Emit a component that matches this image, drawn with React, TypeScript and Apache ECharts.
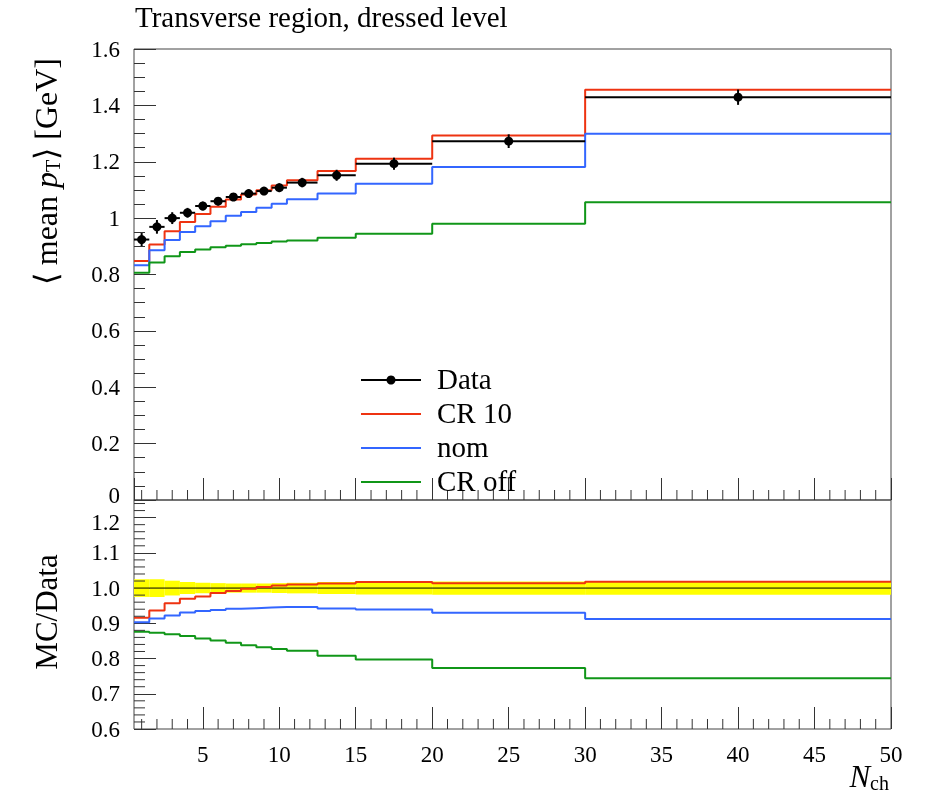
import React, { useEffect, useRef } from "react";
import * as echarts from "echarts";

// ---- data ----
const binEdges = [0.5, 1.5, 2.5, 3.5, 4.5, 5.5, 6.5, 7.5, 8.5, 9.5, 10.5, 12.5, 15, 20, 30, 50];
const dataValues = [0.924, 0.969, 1.0, 1.019, 1.043, 1.06, 1.075, 1.087, 1.096, 1.108, 1.126, 1.152, 1.193, 1.273, 1.429];
const dataRelErr = [0.025, 0.025, 0.021, 0.017, 0.015, 0.014, 0.013, 0.013, 0.013, 0.014, 0.015, 0.017, 0.018, 0.019, 0.019];
const cr10Values = [0.848, 0.906, 0.953, 0.986, 1.015, 1.04, 1.066, 1.084, 1.099, 1.116, 1.134, 1.167, 1.211, 1.293, 1.455];
const nomValues = [0.833, 0.886, 0.922, 0.951, 0.971, 0.989, 1.008, 1.022, 1.037, 1.051, 1.067, 1.087, 1.122, 1.181, 1.299];
const crOffValues = [0.806, 0.843, 0.865, 0.88, 0.889, 0.897, 0.902, 0.907, 0.912, 0.917, 0.921, 0.93, 0.945, 0.98, 1.056];
const cr10Ratio = [0.916, 0.936, 0.957, 0.97, 0.976, 0.986, 0.992, 0.998, 1.003, 1.007, 1.01, 1.013, 1.017, 1.014, 1.018];
const nomRatio = [0.903, 0.914, 0.922, 0.931, 0.935, 0.938, 0.941, 0.943, 0.945, 0.946, 0.946, 0.942, 0.939, 0.93, 0.912];
const crOffRatio = [0.876, 0.873, 0.869, 0.864, 0.857, 0.851, 0.845, 0.838, 0.832, 0.827, 0.822, 0.808, 0.797, 0.773, 0.744];

const xMinorTicks = [1, 2, 3, 4, 6, 7, 8, 9, 11, 12, 13, 14, 16, 17, 18, 19, 21, 22, 23, 24, 26, 27, 28, 29, 31, 32, 33, 34, 36, 37, 38, 39, 41, 42, 43, 44, 46, 47, 48, 49];
const ratioMinorTicks = [0.62, 0.64, 0.66, 0.68, 0.72, 0.74, 0.76, 0.78, 0.82, 0.84, 0.86, 0.88, 0.92, 0.94, 0.96, 0.98, 1.02, 1.04, 1.06, 1.08, 1.12, 1.14, 1.16, 1.18, 1.22, 1.24];

const seriesNames = ["Data", "CR 10", "nom", "CR off"];
const RED = "#EE3311";
const BLUE = "#3366FF";
const GREEN = "#109618";
const FONT = "Liberation Serif";
const TICK_COLOR = "#333";
const TICK_FONT = 23;

function stepPoints(vals: number[]) {
  const pts: number[][] = [];
  vals.forEach((v, i) => {
    pts.push([binEdges[i], v]);
    pts.push([binEdges[i + 1], v]);
  });
  return pts;
}

function stepLine(name: string, vals: number[], color: string, grid: number) {
  return {
    name,
    type: "line",
    xAxisIndex: grid,
    yAxisIndex: grid,
    data: stepPoints(vals),
    showSymbol: false,
    symbol: "none",
    lineStyle: { color, width: 2 },
    z: 3,
    silent: true,
  };
}

function tickSeries(values: number[], grid: number, dir: "x" | "y", base: number, len: number) {
  return {
    type: "custom",
    xAxisIndex: grid,
    yAxisIndex: grid,
    silent: true,
    z: 5,
    clip: false,
    data: values.map((v) => [v, 0]),
    renderItem: (_p: any, api: any) => {
      const v = api.value(0);
      if (dir === "x") {
        const p = api.coord([v, base]);
        return { type: "line", shape: { x1: p[0], y1: p[1], x2: p[0], y2: p[1] - len }, style: { stroke: TICK_COLOR, lineWidth: 1 } };
      }
      const p = api.coord([base, v]);
      return { type: "line", shape: { x1: p[0], y1: p[1], x2: p[0] + len, y2: p[1] }, style: { stroke: TICK_COLOR, lineWidth: 1 } };
    },
  };
}

export default function App() {
  const ref = useRef<HTMLDivElement>(null);
  useEffect(() => {
    if (!ref.current) return;
    const chart = echarts.init(ref.current, undefined, { renderer: "svg" });

    const dataItems = dataValues.map((v, i) => [
      (binEdges[i] + binEdges[i + 1]) / 2,
      v,
      v * dataRelErr[i],
      binEdges[i],
      binEdges[i + 1],
    ]);
    const bandItems = dataRelErr.map((e, i) => [binEdges[i], binEdges[i + 1], e]);
    const xMin = binEdges[0];
    const xMax = binEdges[binEdges.length - 1];

    const tokenStyle = { fontFamily: FONT, fontSize: TICK_FONT, color: "#000" };
    const labelStyle = { ...tokenStyle };
    const legendY = [380, 414, 448, 482];
    const legendColors = ["#000", RED, BLUE, GREEN];

    const legendGraphics: any[] = [];
    seriesNames.forEach((n, i) => {
      legendGraphics.push({
        type: "line",
        shape: { x1: 361, y1: legendY[i], x2: 421, y2: legendY[i] },
        style: { stroke: legendColors[i], lineWidth: 2 },
        z: 10,
      });
      if (i === 0) {
        legendGraphics.push({ type: "circle", shape: { cx: 391, cy: legendY[i], r: 4.5 }, style: { fill: "#000" }, z: 10 });
      }
      legendGraphics.push({
        type: "text",
        x: 437,
        y: legendY[i] - 1,
        style: { text: n, fontFamily: FONT, fontSize: 29, fill: "#000", align: "left", verticalAlign: "middle" },
        z: 10,
      });
    });

    const option: any = {
      animation: false,
      grid: [
        { left: 134, top: 49, width: 757, height: 451, show: true, borderColor: "#444", borderWidth: 1, backgroundColor: "transparent" },
        { left: 134, top: 500, width: 757, height: 229, show: true, borderColor: "#444", borderWidth: 1, backgroundColor: "transparent" },
      ],
      xAxis: [
        {
          gridIndex: 0, type: "value", min: xMin, max: xMax, splitNumber: 10,
          axisLine: { show: false }, splitLine: { show: false },
          axisTick: { show: true, inside: true, length: 22, lineStyle: { color: TICK_COLOR } },
          axisLabel: { show: false },
        },
        {
          gridIndex: 1, type: "value", min: xMin, max: xMax, splitNumber: 10,
          axisLine: { show: false }, splitLine: { show: false },
          axisTick: { show: true, inside: true, length: 22, lineStyle: { color: TICK_COLOR } },
          axisLabel: {
            ...labelStyle, margin: 14, showMinLabel: false,
            formatter: (v: number) => (Math.abs(v % 5) < 1e-9 ? String(v) : ""),
          },
        },
      ],
      yAxis: [
        {
          gridIndex: 0, type: "value", min: 0, max: 1.6, interval: 0.2,
          axisLine: { show: false }, splitLine: { show: false },
          axisTick: { show: true, inside: true, length: 22, lineStyle: { color: TICK_COLOR } },
          minorTick: { show: true, splitNumber: 4, length: 11, lineStyle: { color: TICK_COLOR } },
          axisLabel: {
            ...labelStyle, margin: 14,
            formatter: (v: number) => {
              const s = String(Math.round(v * 10) / 10);
              return Math.abs(v) < 1e-9 ? `{lo|${s}}` : s;
            },
            rich: { lo: { ...tokenStyle, padding: [0, 0, 10, 0] } },
          },
        },
        {
          gridIndex: 1, type: "value", min: 0.6, max: 1.25, interval: 0.1,
          axisLine: { show: false }, splitLine: { show: false },
          axisTick: { show: true, inside: true, length: 22, lineStyle: { color: TICK_COLOR } },
          axisLabel: {
            ...labelStyle, margin: 14, showMaxLabel: false,
            formatter: (v: number) => {
              const s = v.toFixed(1);
              return Math.abs(v - 1.2) < 1e-6 ? `{hi|${s}}` : s;
            },
            rich: { hi: { ...tokenStyle, padding: [10, 0, 0, 0] } },
          },
        },
      ],
      series: [
        {
          type: "custom",
          xAxisIndex: 1,
          yAxisIndex: 1,
          silent: true,
          z: 1,
          data: bandItems,
          renderItem: (_p: any, api: any) => {
            const lo = api.value(0), hi = api.value(1), e = api.value(2);
            const a = api.coord([lo, 1 + e]);
            const b = api.coord([hi, 1 - e]);
            return { type: "rect", shape: { x: a[0], y: a[1], width: b[0] - a[0], height: b[1] - a[1] }, style: { fill: "#FFFF00" } };
          },
        },
        {
          type: "line", xAxisIndex: 1, yAxisIndex: 1, silent: true, showSymbol: false, symbol: "none", z: 2,
          data: [[xMin, 1], [xMax, 1]],
          lineStyle: { color: "#000", width: 1 },
        },
        stepLine("CR 10", cr10Ratio, RED, 1),
        stepLine("nom", nomRatio, BLUE, 1),
        stepLine("CR off", crOffRatio, GREEN, 1),
        stepLine("CR 10", cr10Values, RED, 0),
        stepLine("nom", nomValues, BLUE, 0),
        stepLine("CR off", crOffValues, GREEN, 0),
        {
          name: "Data",
          type: "custom",
          xAxisIndex: 0,
          yAxisIndex: 0,
          silent: true,
          z: 6,
          data: dataItems,
          renderItem: (_p: any, api: any) => {
            const x = api.value(0), y = api.value(1), e = api.value(2), lo = api.value(3), hi = api.value(4);
            const pL = api.coord([lo, y]);
            const pR = api.coord([hi, y]);
            const pT = api.coord([x, y + e]);
            const pB = api.coord([x, y - e]);
            const pC = api.coord([x, y]);
            return {
              type: "group",
              children: [
                { type: "line", shape: { x1: pL[0], y1: pL[1], x2: pR[0], y2: pR[1] }, style: { stroke: "#000", lineWidth: 2 } },
                { type: "line", shape: { x1: pT[0], y1: pT[1], x2: pB[0], y2: pB[1] }, style: { stroke: "#000", lineWidth: 2 } },
                { type: "circle", shape: { cx: pC[0], cy: pC[1], r: 4.5 }, style: { fill: "#000" } },
              ],
            };
          },
        },
        tickSeries(xMinorTicks, 0, "x", 0, 10),
        tickSeries(xMinorTicks, 1, "x", 0.6, 10),
        tickSeries(ratioMinorTicks, 1, "y", xMin, 11),
      ],
      graphic: [
        {
          type: "text",
          x: 135,
          y: 17,
          style: { text: "Transverse region, dressed level", fontFamily: FONT, fontSize: 29, fill: "#000", align: "left", verticalAlign: "middle" },
        },
        {
          type: "text",
          x: 46,
          y: 58,
          rotation: Math.PI / 2,
          style: {
            text: "{a|\u27e8 mean }{i|p}{s|T}{a|\u27e9 [GeV]}",
            align: "right",
            verticalAlign: "middle",
            fill: "#000",
            rich: {
              a: { fontFamily: FONT, fontSize: 32, lineHeight: 34, verticalAlign: "middle" },
              i: { fontFamily: FONT, fontSize: 32, fontStyle: "italic", lineHeight: 34, verticalAlign: "middle" },
              s: { fontFamily: FONT, fontSize: 20, lineHeight: 16, verticalAlign: "bottom" },
            },
          },
        },
        {
          type: "text",
          x: 46,
          y: 612,
          rotation: Math.PI / 2,
          style: { text: "MC/Data", fontFamily: FONT, fontSize: 31, fill: "#000", align: "center", verticalAlign: "middle" },
        },
        {
          type: "text",
          x: 889,
          y: 776,
          style: {
            text: "{i|N}{s|ch}",
            align: "right",
            verticalAlign: "middle",
            fill: "#000",
            rich: {
              i: { fontFamily: FONT, fontSize: 31, fontStyle: "italic", lineHeight: 34, verticalAlign: "middle" },
              s: { fontFamily: FONT, fontSize: 20, lineHeight: 16, verticalAlign: "bottom" },
            },
          },
        },
        ...legendGraphics,
      ],
    };
    chart.setOption(option);
    return () => chart.dispose();
  }, []);

  return <div ref={ref} style={{ position: "fixed", left: 0, top: 0, width: 935, height: 806 }} />;
}
